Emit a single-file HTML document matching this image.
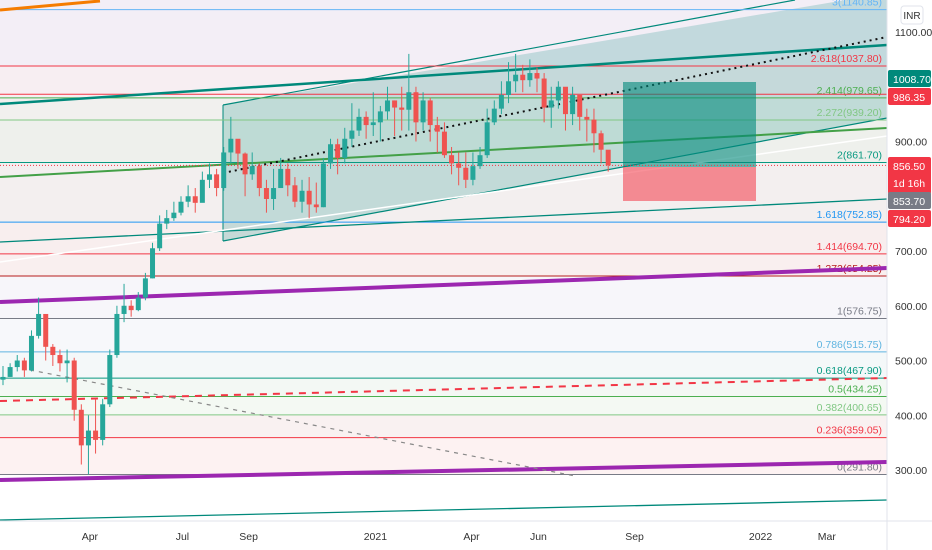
<!DOCTYPE html>
<html><head><meta charset="utf-8"><style>
html,body{margin:0;padding:0;background:#fff;}
svg{display:block;font-family:"Liberation Sans",sans-serif;}
</style></head><body>
<svg id="c" width="932" height="550" xmlns="http://www.w3.org/2000/svg"></svg>
<script>
const closes=[470,488,500,482,545,585,525,510,495,500,410,345,372,355,420,510,585,600,592,615,650,705,750,760,770,790,800,788,830,840,815,880,905,878,840,855,815,795,815,850,820,790,810,785,780,860,895,870,905,920,945,930,935,955,975,962,958,990,935,975,930,918,875,860,852,830,855,875,935,960,985,1010,1022,1012,1025,1015,962,975,1000,950,985,945,940,915,885,856.5];
const highs=[490,495,510,505,555,615,560,530,520,520,505,420,400,430,430,520,600,640,610,625,660,715,765,775,790,800,820,815,845,860,850,890,945,900,880,880,860,830,850,870,860,835,830,835,825,870,905,905,925,970,960,955,990,965,1000,975,1000,1060,1000,990,980,945,935,890,880,880,880,890,960,975,1010,1045,1060,1040,1050,1035,1025,1000,1010,990,1000,980,960,960,920,880];
const lows=[455,470,480,470,480,540,500,490,480,460,390,310,292,330,345,415,505,570,580,590,610,650,700,740,755,765,780,770,800,815,800,810,860,850,800,830,800,770,775,830,800,780,770,760,770,780,850,840,860,890,910,905,910,900,940,910,920,920,900,920,900,880,870,840,820,815,820,850,870,930,950,970,990,990,1000,990,935,925,960,920,930,920,900,880,860,845];
const timeLabels=["Apr","Jul","Sep","2021","Apr","Jun","Sep","2022","Mar"];
const timeIdx=[12.2,25.2,34.5,52.3,65.8,75.2,88.7,106.4,115.7];
const yTicks=[1100,900,700,600,500,400,300];
const fibLevels=[3,2.618,2.414,2.272,2,1.618,1.414,1.272,1,0.786,0.618,0.5,0.382,0.236,0];
const fibPrices=[1140.85,1037.80,979.65,939.20,861.70,752.85,694.70,654.25,576.75,515.75,467.90,434.25,400.65,359.05,291.80];
const fibColors=["#64b5f6","#f23645","#4caf50","#81c784","#089981","#2196f3","#f23645","#b71c1c","#787b86","#5fb4e0","#089981","#4caf50","#81c784","#f23645","#787b86"];
const fibFills=["#f3eef6","#f7eef2","#f1f0ee","#eef0ec","#f3efef","#f8eeee","#f9efef","#f7f6fa","#f7f8fb","#f4f8f9","#f3f8f4","#f4f9f3","#f9f1f1","#fdf2f2"];

const W=887,svg=document.getElementById('c'),NS='http://www.w3.org/2000/svg';
const y=p=>32+(1100-p)*0.5475;
const x=i=>3+i*7.12;
function el(t,a,parent){const e=document.createElementNS(NS,t);for(const k in a)e.setAttribute(k,a[k]);(parent||svg).appendChild(e);return e;}
// fills
el('rect',{x:0,y:0,width:W,height:y(fibPrices[0]),fill:'#f3eef6'});
for(let i=0;i<fibFills.length;i++){const r=el('rect',{x:0,y:y(fibPrices[i]),width:W,height:y(fibPrices[i+1])-y(fibPrices[i]),fill:fibFills[i]});}
// channel
const ch=el('polygon',{points:`223,105 ${W},-7 ${W},118 223,241`,fill:'rgba(0,137,123,0.2)',stroke:'none'});

el('line',{x1:223,y1:105,x2:795,y2:0,stroke:'#00897b','stroke-width':1.2});
el('line',{x1:223,y1:241,x2:W,y2:118,stroke:'#00897b','stroke-width':1.2});
el('line',{x1:223,y1:105,x2:223,y2:241,stroke:'#00897b','stroke-width':1});
// fib lines
fibLevels.forEach((lv,i)=>{const g=el('g',{});
 el('line',{x1:0,y1:y(fibPrices[i]),x2:W,y2:y(fibPrices[i]),stroke:fibColors[i],'stroke-width':1},g);
 const t=el('text',{x:882,y:y(fibPrices[i])-4,'text-anchor':'end','font-size':10.5,fill:fibColors[i]},g);t.textContent=lv+'('+fibPrices[i].toFixed(2)+')';});
el('line',{x1:0,y1:y(986.35),x2:W,y2:y(986.35),stroke:'#f23645','stroke-width':1});
// trend lines
const tl=[[0,10,100,1,'#f57c00',3,''],[0,104,W,45,'#00897b',2.5,''],[0,177,W,128,'#43a047',2,''],[0,242,W,199,'#00897b',1.3,''],[0,262,W,136,'#ffffff',1.5,''],[0,302,W,268,'#9c27b0',4,''],[0,480,W,462,'#9c27b0',4,''],[0,520,W,500,'#00897b',1.3,''],[0,401,W,378,'#f23645',2,'7,6'],[30,370,575,476,'#888',1.2,'4,5'],[223,173,W,37,'#111',2,'2,4']];
tl.forEach((l,i)=>{const e=el('line',{x1:l[0],y1:l[1],x2:l[2],y2:l[3],stroke:l[4],'stroke-width':l[5],'stroke-dasharray':l[6]});});
// position box
const pb=el('rect',{x:623,y:82,width:133,height:85,fill:'rgba(0,137,123,0.6)'});
const ps=el('rect',{x:623,y:167,width:133,height:34,fill:'rgba(242,54,69,0.55)'});
el('line',{x1:0,y1:y(856.5),x2:W,y2:y(856.5),stroke:'#f23645','stroke-width':1,'stroke-dasharray':'1,2'});
// candles
closes.forEach((c,i)=>{const o=i?closes[i-1]:465;const up=c>=o;const col=up?'#26a69a':'#ef5350';
 const g=el('g',{});
 el('line',{x1:x(i),x2:x(i),y1:y(highs[i]),y2:y(lows[i]),stroke:col,'stroke-width':1},g);
 const t=y(Math.max(o,c)),b=y(Math.min(o,c));
 el('rect',{x:x(i)-2.5,y:t,width:5,height:Math.max(1,b-t),fill:col},g);});
// axes
el('rect',{x:W,y:0,width:932-W,height:550,fill:'#fff'});
el('rect',{x:0,y:521,width:W,height:29,fill:'#fff'});
el('line',{x1:W,y1:0,x2:W,y2:550,stroke:'#e0e3eb'});
el('line',{x1:0,y1:521,x2:932,y2:521,stroke:'#e0e3eb'});
yTicks.forEach(v=>{const t=el('text',{x:895,y:y(v)+4,'font-size':10.5,fill:'#333'});t.textContent=v.toFixed(2);});
timeLabels.forEach((s,i)=>{const t=el('text',{x:x(timeIdx[i]),y:540,'text-anchor':'middle','font-size':10.5,fill:'#333'});t.textContent=s;});
const ib=el('rect',{x:901,y:6,width:22,height:18,rx:3,fill:'#fff',stroke:'#e0e3eb'});
const it=el('text',{x:912,y:19,'text-anchor':'middle','font-size':10,fill:'#333'});it.textContent='INR';
const tags=[[1008.70,70,17,'#00897b',['1008.70']],[986.35,88,17,'#f23645',['986.35']],[856.50,157,37,'#f23645',['856.50','1d 16h']],[853.70,192,17,'#787b86',['853.70']],[794.20,210,17,'#f23645',['794.20']]];
tags.forEach(tg=>{const g=el('g',{});
 el('rect',{x:888,y:tg[1],width:43,height:tg[2],rx:2,fill:tg[3]},g);
 tg[4].forEach((s,j)=>{const t=el('text',{x:893,y:tg[1]+13+j*17,'font-size':10.5,fill:'#fff'},g);t.textContent=s;});});
</script>
</body></html>
